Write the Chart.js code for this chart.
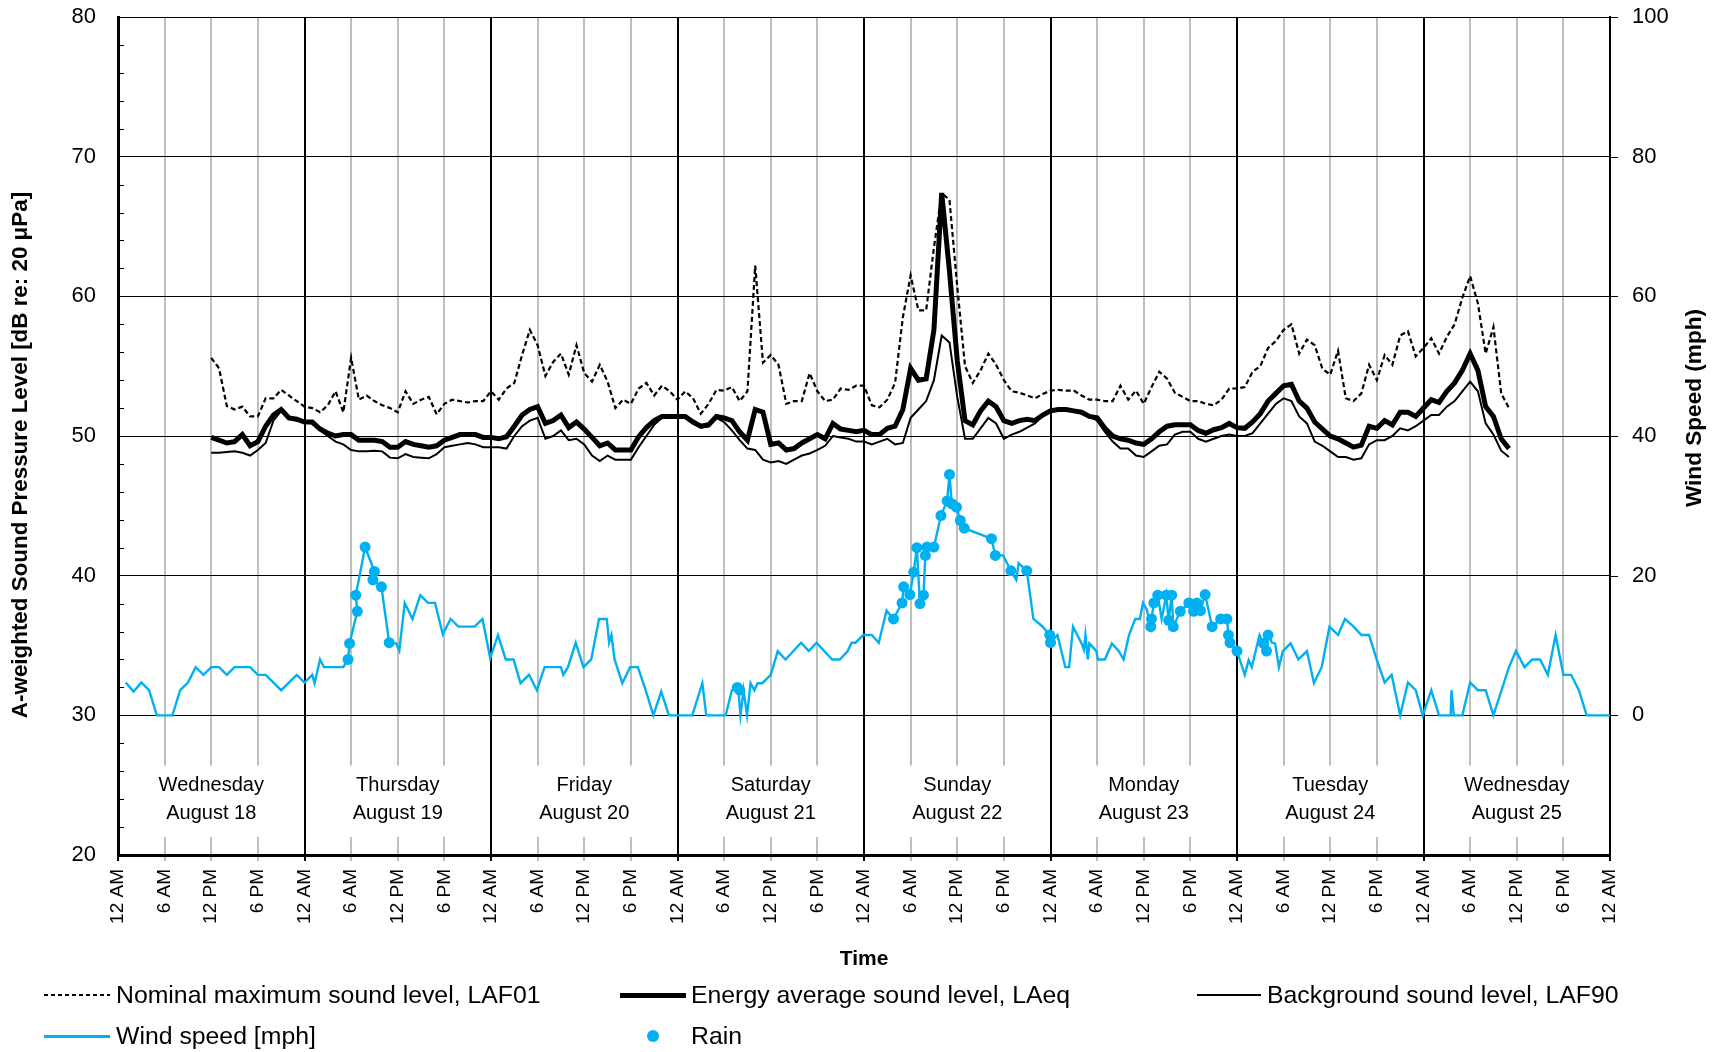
<!DOCTYPE html>
<html><head><meta charset="utf-8">
<script src="https://cdn.jsdelivr.net/npm/chart.js@4.4.1/dist/chart.umd.min.js"></script>
<style>
html,body{margin:0;padding:0;background:#fff;}
#wrap{position:relative;width:1717px;height:1052px;font-family:"Liberation Sans",Arial,sans-serif;overflow:hidden;}
#c{position:absolute;left:0;top:0;}
.lg{position:absolute;font-size:24.8px;line-height:28px;color:#000;white-space:nowrap;}
.sw{position:absolute;}
</style></head><body>
<div id="wrap">
<canvas id="c" width="1717" height="1052"></canvas>
<div class="sw" style="left:44px;top:994px;width:66px;height:2px;background:repeating-linear-gradient(to right,#000 0 4px,transparent 4px 7px);"></div>
<div class="lg" style="left:116px;top:981px;">Nominal maximum sound level, LAF01</div>
<div class="sw" style="left:620px;top:993px;width:66px;height:5px;background:#000;"></div>
<div class="lg" style="left:691px;top:981px;">Energy average sound level, LAeq</div>
<div class="sw" style="left:1197px;top:994px;width:64px;height:2px;background:#000;"></div>
<div class="lg" style="left:1267px;top:981px;">Background sound level, LAF90</div>
<div class="sw" style="left:44px;top:1035px;width:66px;height:3px;background:#00B0F0;"></div>
<div class="lg" style="left:116px;top:1022px;">Wind speed [mph]</div>
<div class="sw" style="left:647px;top:1030px;width:12px;height:12px;border-radius:50%;background:#00B0F0;"></div>
<div class="lg" style="left:691px;top:1022px;">Rain</div>
</div>
<script>
// ---------- axis / label data ----------
const xTickLabels = ['12 AM', '6 AM', '12 PM', '6 PM'];
const xTickHours = [0,6,12,18,24,30,36,42,48,54,60,66,72,78,84,90,96,102,108,114,120,126,132,138,144,150,156,162,168,174,180,186,192];
const dayNames = ['Wednesday','Thursday','Friday','Saturday','Sunday','Monday','Tuesday','Wednesday'];
const dayDates = ['August 18','August 19','August 20','August 21','August 22','August 23','August 24','August 25'];
const leftTitle = 'A-weighted Sound Pressure Level [dB re: 20 \u03bcPa]';
const rightTitle = 'Wind Speed (mph)';

// ---------- sound data (hourly, first value at hour 12 = Wed 12 PM) ----------
const soundStartHour = 12;
const laf01 = [
55.6,54.85,52.15,51.9,52.1,51.4,51.4,52.7,52.7,53.3,52.9,52.5,
52.1,52.0,51.7,52.2,53.2,51.7,55.6,52.6,52.9,52.5,52.2,52.0,
51.7,53.2,52.3,52.6,52.8,51.55,52.3,52.6,52.5,52.4,52.5,52.5,
53.2,52.6,53.4,53.8,55.8,57.6,56.5,54.3,55.3,55.9,54.4,56.5,
54.5,53.9,55.1,53.9,52.0,52.6,52.3,53.4,53.8,52.9,53.6,53.2,
52.6,53.2,52.7,51.6,52.3,53.3,53.25,53.5,52.5,53.2,62.2,55.25,
55.8,55.1,52.3,52.5,52.5,54.5,53.2,52.5,52.6,53.4,53.3,53.6,
53.6,52.2,52.05,52.6,53.8,58.5,61.5,59.0,59.0,63.5,67.4,66.9,
60.7,55.0,53.8,54.7,55.9,55.1,54.0,53.2,53.1,52.9,52.7,53.0,
53.25,53.3,53.25,53.25,52.9,52.6,52.6,52.5,52.5,53.6,52.6,53.25,
52.3,53.5,54.6,54.1,53.1,52.8,52.5,52.5,52.3,52.2,52.6,53.4,
53.4,53.5,54.6,55.0,56.3,56.8,57.6,58.0,55.9,56.9,56.5,54.8,
54.4,56.1,52.7,52.5,53.05,55.1,54.0,55.8,55.1,57.2,57.5,55.7,
56.3,57.0,55.9,57.1,58.0,59.9,61.45,59.5,55.9,57.8,53.05,52.0];
const laeq = [
49.9,49.7,49.5,49.6,50.1,49.3,49.6,50.7,51.5,51.9,51.3,51.2,
51.0,51.0,50.5,50.2,50.0,50.1,50.1,49.7,49.7,49.7,49.6,49.2,
49.2,49.6,49.4,49.3,49.2,49.3,49.7,49.9,50.1,50.1,50.1,49.9,
49.9,49.8,49.95,50.7,51.5,51.9,52.1,50.9,51.1,51.5,50.6,51.0,
50.5,49.9,49.3,49.5,49.0,49.0,49.0,49.95,50.6,51.1,51.4,51.4,
51.4,51.4,51.0,50.7,50.8,51.4,51.3,51.1,50.3,49.7,51.9,51.7,
49.4,49.5,49.0,49.1,49.5,49.8,50.1,49.8,50.9,50.5,50.4,50.3,
50.4,50.1,50.1,50.55,50.7,51.9,54.85,54.0,54.1,57.6,67.4,61.8,
55.4,51.1,50.8,51.8,52.5,52.1,51.1,50.9,51.1,51.2,51.1,51.5,
51.8,51.9,51.9,51.8,51.7,51.4,51.3,50.55,50.0,49.8,49.7,49.5,
49.4,49.8,50.3,50.7,50.8,50.8,50.8,50.4,50.2,50.45,50.6,50.9,
50.6,50.55,51.0,51.6,52.5,53.05,53.6,53.7,52.5,52.0,51.0,50.5,
50.0,49.8,49.5,49.2,49.35,50.7,50.55,51.1,50.8,51.7,51.7,51.4,
52.0,52.6,52.4,53.2,53.8,54.7,55.9,54.7,52.1,51.4,49.8,49.1];
const laf90 = [
48.8,48.8,48.85,48.9,48.8,48.6,49.0,49.5,51.1,51.8,51.3,51.1,
51.0,50.9,50.4,50.0,49.6,49.4,49.0,48.9,48.9,48.95,48.9,48.45,
48.4,48.7,48.5,48.45,48.4,48.7,49.2,49.3,49.4,49.5,49.4,49.2,
49.2,49.2,49.1,50.0,50.7,51.1,51.3,49.8,50.0,50.4,49.7,49.8,
49.4,48.6,48.2,48.6,48.3,48.3,48.3,49.2,50.0,50.8,51.3,51.3,
51.3,51.3,50.9,50.6,50.7,51.3,51.0,50.4,49.7,49.1,49.0,48.3,
48.1,48.2,48.0,48.3,48.6,48.75,49.0,49.3,50.0,49.9,49.8,49.6,
49.6,49.4,49.6,49.8,49.4,49.5,51.3,51.9,52.5,54.0,57.2,56.7,
52.8,49.8,49.8,50.55,51.3,50.9,49.8,50.1,50.3,50.6,50.9,51.5,
51.9,51.9,51.8,51.8,51.6,51.4,51.1,50.3,49.6,49.1,49.1,48.6,
48.5,48.9,49.3,49.4,50.1,50.3,50.3,49.8,49.6,49.8,50.0,50.1,
50.0,50.0,50.2,50.9,51.6,52.3,52.7,52.5,51.4,50.9,49.6,49.3,
48.9,48.5,48.5,48.3,48.4,49.4,49.7,49.7,50.0,50.55,50.4,50.7,
51.1,51.5,51.5,52.1,52.5,53.2,53.9,53.2,50.9,50.1,48.95,48.5];

// ---------- wind data (hours since Wed 12 AM, mph) ----------
const windHours = [1,2,3,4,5,7,8,9,10,11,12,13,14,15,17,18,19,21,23,24,25,25.3,26,26.5,29,
29.6,29.8,30.8,30.6,31.8,33.0,32.8,33.9,34.9,35.8,36.2,36.9,37.9,38.9,39.9,40.8,41.8,42.8,43.8,45.9,46.9,47.9,48.9,
49.9,50.9,51.8,52.9,53.9,54.9,57.0,57.3,57.9,58.9,59.9,60.9,61.9,62.9,63.2,63.5,63.9,64.9,65.9,66.9,67.9,68.9,69.9,70.9,
73.9,75.2,75.7,78.2,79.0,79.8,80.1,80.5,80.95,81.4,81.9,82.3,82.9,84.0,84.9,85.9,87.9,88.9,89.9,91.9,92.9,93.9,94.4,94.9,95.9,
97.0,97.9,98.9,99.8,100.9,101.1,101.9,102.4,102.8,103.2,103.65,103.9,104.1,105.0,105.9,106.7,107.0,107.3,107.9,108.4,108.9,
112.4,112.9,113.9,114.9,115.6,115.9,116.95,117.8,118.9,119.9,120.0,120.9,121.9,122.4,122.9,124.0,124.3,124.5,124.8,125.0,
125.9,126.1,127.0,127.9,128.8,129.4,130.1,130.9,131.5,131.9,132.4,132.9,133.0,133.3,133.8,134.3,134.9,135.2,135.6,135.8,
136.7,137.8,138.4,138.85,139.3,139.9,140.8,141.9,142.7,142.9,143.1,144.0,145.0,145.5,145.9,146.9,147.4,147.8,148.0,148.5,
148.9,149.4,149.9,150.9,151.9,153.0,153.9,154.9,155.9,157.0,157.9,159.0,160.0,161.0,162.0,163.0,163.9,165.0,166.0,167.0,
167.9,169.0,170.0,171.5,171.6,171.9,173.0,174.0,175.0,176.0,177.0,179.0,179.9,181.0,182.0,183.0,184.0,185.0,186.0,187.0,188.0,189.0,192.0];
const windMph = [4.7,3.4,4.7,3.6,0,0,3.6,4.7,6.9,5.8,6.9,6.9,5.8,6.9,6.9,5.8,5.8,3.6,5.8,4.7,5.8,4.6,8.0,6.9,6.9,
8.0,10.3,14.9,17.2,24.1,20.6,19.4,18.4,10.4,10.3,9.3,16.1,13.8,17.2,16.1,16.1,11.6,13.8,12.7,12.7,13.8,8.2,11.5,
8.0,8.0,4.6,5.8,3.6,6.9,6.9,5.8,6.9,10.4,6.9,8.0,13.8,13.8,10.4,11.5,8.0,4.6,6.9,6.9,3.6,0,3.4,0,
0,4.6,0,0,3.6,4.1,0,3.6,0,4.6,3.6,4.6,4.6,5.8,9.2,8.0,10.4,9.2,10.4,8.0,8.0,9.2,10.4,10.4,11.5,
11.5,10.4,15.0,13.8,16.1,18.4,17.3,20.5,24.0,16.0,17.2,22.9,24.1,24.1,28.6,30.7,34.5,30.3,29.8,27.9,26.8,
25.3,22.9,22.9,20.7,19.4,21.8,20.7,13.8,12.8,11.5,10.4,11.5,6.9,6.9,12.7,10.3,9.4,11.5,8.0,10.3,
9.2,8.0,8.0,10.3,9.2,8.0,11.5,13.8,13.8,16.1,15.1,12.7,13.8,16.1,17.2,13.8,17.2,13.6,17.2,12.7,
14.9,16.1,14.9,16.1,15.0,17.3,12.7,13.8,13.8,11.5,10.4,9.2,5.8,7.9,6.9,11.5,10.3,9.2,11.5,10.4,
10.3,6.9,9.2,10.3,8.0,9.2,4.6,6.9,12.7,11.5,13.8,12.7,11.5,11.5,7.9,4.7,5.8,0,4.7,3.6,
0,3.6,0,0,3.6,0,0,4.7,3.6,3.6,0,6.9,9.2,6.9,8.0,8.0,5.8,11.5,5.8,5.8,3.6,0,0];

// ---------- rain observations (hours, wind mph at time of rain) ----------
const rainHours = [29.6,29.8,30.6,30.8,31.8,32.8,33.0,33.9,34.9,
79.7,80.0,
99.8,100.9,101.1,101.9,102.4,102.8,103.2,103.65,103.9,104.1,105.0,105.9,106.7,107.0,107.3,107.9,108.4,108.9,112.4,112.9,114.9,116.95,119.9,120.0,
132.9,133.0,133.3,133.8,134.9,135.2,135.6,135.8,136.7,137.8,138.4,138.85,139.3,139.9,140.8,141.9,142.7,142.9,143.1,144.0,
147.4,147.8,148.0];
const rainMph = [8.0,10.3,17.2,14.9,24.1,19.4,20.6,18.4,10.4,
4.0,3.6,
13.8,16.1,18.4,17.3,20.5,24.0,16.0,17.2,22.9,24.1,24.1,28.6,30.7,34.5,30.3,29.8,27.9,26.8,25.3,22.9,20.7,20.7,11.5,10.4,
12.7,13.8,16.1,17.2,17.2,13.6,17.2,12.7,14.9,16.1,14.9,16.1,15.0,17.3,12.7,13.8,13.8,11.5,10.4,9.2,
10.3,9.2,11.5];

// ---------- build ----------
const FONT = '"Liberation Sans", Arial, sans-serif';
Chart.defaults.font.family = FONT;
Chart.defaults.color = '#000';
const toXY = (arr) => arr.map((v, i) => ({x: soundStartHour + i, y: v}));
const pairs = (xs, ys) => xs.map((h, i) => ({x: h, y: ys[i]}));
const BLUE = '#00B0F0';

const overlay = {
  id: 'overlay',
  beforeDatasetsDraw(chart) {
    const {ctx, chartArea: a, scales: {x, y, y2}} = chart;
    ctx.save();
    ctx.fillStyle = '#fff';
    const yt = y.getPixelForValue(26.4), yb = y.getPixelForValue(21.3);
    dayNames.forEach((n, i) => {
      const x0 = x.getPixelForValue(i * 24 + 4.5), x1 = x.getPixelForValue(i * 24 + 19.5);
      ctx.fillRect(x0, yt, x1 - x0, yb - yt);
    });
    ctx.fillStyle = '#000';
    ctx.font = '20px ' + FONT;
    ctx.textAlign = 'center';
    ctx.textBaseline = 'middle';
    dayNames.forEach((n, i) => {
      const cx = x.getPixelForValue(i * 24 + 12);
      ctx.fillText(n, cx, y.getPixelForValue(25));
      ctx.fillText(dayDates[i], cx, y.getPixelForValue(23));
    });
    ctx.strokeStyle = '#000';
    ctx.lineWidth = 1;
    for (let v = 22; v < 80; v += 2) {
      if (v % 10 === 0) continue;
      const py = Math.round(y.getPixelForValue(v)) + 0.5;
      ctx.beginPath(); ctx.moveTo(a.left, py); ctx.lineTo(a.left + 6, py); ctx.stroke();
    }
    y2.ticks.forEach(t => {
      const py = Math.round(y2.getPixelForValue(t.value)) + 0.5;
      ctx.beginPath(); ctx.moveTo(a.right, py); ctx.lineTo(a.right + 8, py); ctx.stroke();
    });
    ctx.restore();
  },
  afterDraw(chart) {
    const {ctx} = chart;
    ctx.save();
    ctx.fillStyle = '#000';
    ctx.font = 'bold 22.4px ' + FONT;
    ctx.textAlign = 'center';
    ctx.textBaseline = 'middle';
    ctx.translate(21, 455); ctx.rotate(-Math.PI / 2); ctx.fillText(leftTitle, 0, 0);
    ctx.restore();
    ctx.save();
    ctx.fillStyle = '#000';
    ctx.font = 'bold 22.6px ' + FONT;
    ctx.textAlign = 'center';
    ctx.textBaseline = 'middle';
    ctx.translate(1695, 408); ctx.rotate(-Math.PI / 2); ctx.fillText(rightTitle, 0, 0);
    ctx.restore();
  }
};

new Chart(document.getElementById('c'), {
  type: 'line',
  data: {
    datasets: [
      {label: 'Nominal maximum sound level, LAF01', data: toXY(laf01), yAxisID: 'y',
       borderColor: '#000', borderWidth: 2.2, borderDash: [5, 3], pointRadius: 0, tension: 0},
      {label: 'Energy average sound level, LAeq', data: toXY(laeq), yAxisID: 'y',
       borderColor: '#000', borderWidth: 5, pointRadius: 0, tension: 0},
      {label: 'Background sound level, LAF90', data: toXY(laf90), yAxisID: 'y',
       borderColor: '#000', borderWidth: 2, pointRadius: 0, tension: 0},
      {label: 'Wind speed [mph]', data: pairs(windHours, windMph), yAxisID: 'y2',
       borderColor: BLUE, borderWidth: 2.4, pointRadius: 0, tension: 0},
      {label: 'Rain', data: pairs(rainHours, rainMph), yAxisID: 'y2', showLine: false,
       pointRadius: 5.5, pointBorderWidth: 0, pointBackgroundColor: BLUE, borderColor: BLUE}
    ]
  },
  options: {
    responsive: false,
    animation: false,
    devicePixelRatio: 1,
    layout: {padding: {left: 0, right: 0, top: 17, bottom: 80}},
    plugins: {legend: {display: false}, tooltip: {enabled: false}},
    scales: {
      x: {
        type: 'linear', min: 0, max: 192,
        afterBuildTicks: (s) => { s.ticks = xTickHours.map(v => ({value: v})); },
        afterFit: (s) => { s.height = 117; },
        ticks: {
          autoSkip: false, maxRotation: 90, minRotation: 90, padding: 8,
          font: {size: 19},
          callback: (v) => xTickLabels[(v / 6) % 4]
        },
        grid: {
          color: (c) => (c.tick && c.tick.value % 24 === 0) ? '#000' : '#BFBFBF',
          lineWidth: 2, tickLength: 6
        },
        border: {display: true, color: '#000', width: 3},
        title: {display: true, text: 'Time', font: {size: 21, weight: 'bold'}, padding: {top: 0, bottom: 0}}
      },
      y: {
        position: 'left', min: 20, max: 80,
        ticks: {stepSize: 10, font: {size: 22}, padding: 0},
        afterFit: (s) => { s.width = 118; },
        grid: {color: '#000', lineWidth: 1, drawTicks: true, tickLength: 22, tickColor: 'rgba(0,0,0,0)'},
        border: {display: true, color: '#000', width: 3}
      },
      y2: {
        position: 'right', min: -20, max: 100,
        ticks: {stepSize: 20, font: {size: 22}, padding: 0},
        afterBuildTicks: (s) => { s.ticks = s.ticks.filter(t => t.value >= 0); },
        afterFit: (s) => { s.width = 107; },
        grid: {drawOnChartArea: false, drawTicks: true, tickLength: 22, tickColor: 'rgba(0,0,0,0)'},
        border: {display: true, color: '#000', width: 2}
      }
    }
  },
  plugins: [overlay]
});
</script>
</body></html>
